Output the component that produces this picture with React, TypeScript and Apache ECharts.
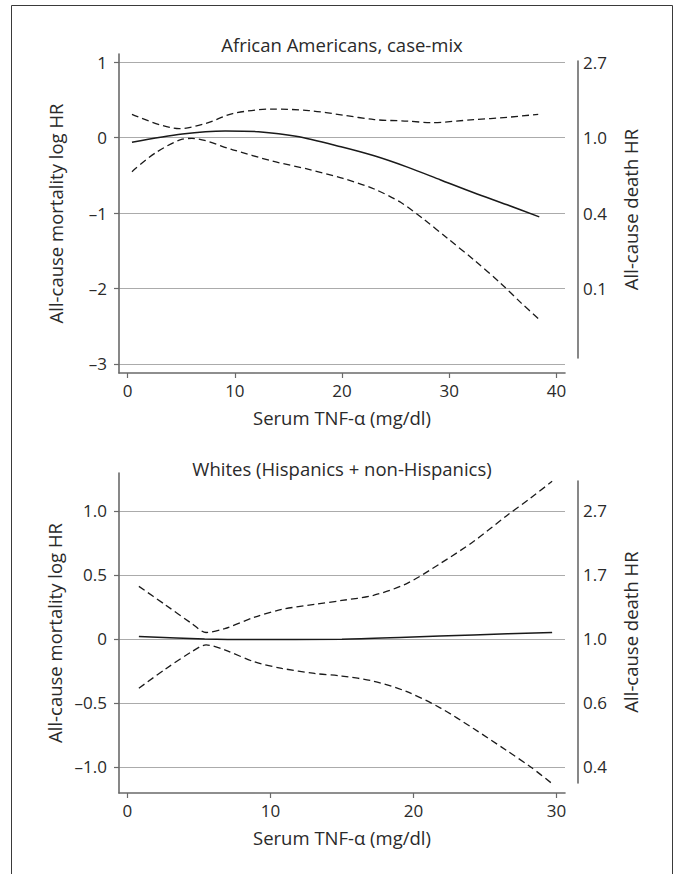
import React, { useEffect, useRef } from "react";
import * as echarts from "echarts";

// ---------- Data: African Americans, case-mix ----------
const AA_SOLID_X = [0.4, 5.1, 9.1, 12.2, 15.7, 19.9, 23.0, 26.1, 29.2, 32.3, 35.4, 38.4];
const AA_SOLID_Y = [-0.06, 0.05, 0.09, 0.08, 0.02, -0.12, -0.24, -0.39, -0.56, -0.73, -0.89, -1.05];
const AA_UPPER_X = [0.4, 4.8, 7.3, 9.8, 13.5, 16.9, 20.1, 23.0, 26.1, 28.3, 32.3, 35.4, 38.3];
const AA_UPPER_Y = [0.31, 0.12, 0.19, 0.32, 0.38, 0.36, 0.3, 0.24, 0.22, 0.2, 0.24, 0.27, 0.31];
const AA_LOWER_X = [0.4, 2.6, 5.1, 6.0, 9.8, 13.5, 16.9, 20.1, 23.0, 25.5, 27.7, 29.8, 32.3, 34.8, 36.7, 38.4];
const AA_LOWER_Y = [-0.45, -0.2, -0.02, -0.01, -0.16, -0.31, -0.42, -0.54, -0.68, -0.86, -1.09, -1.33, -1.62, -1.93, -2.19, -2.41];

// ---------- Data: Whites (Hispanics + non-Hispanics) ----------
const W_SOLID_X = [0.8, 5.4, 8.5, 15.0, 19.5, 24.2, 29.7];
const W_SOLID_Y = [0.018, 0.0, -0.005, -0.002, 0.013, 0.031, 0.05];
const W_BAND_X = [0.8, 2.6, 4.5, 5.5, 6.8, 8.9, 10.8, 13.1, 15.0, 17.2, 19.5, 21.9, 24.2, 26.5, 28.2, 29.7];
const W_UPPER_Y = [0.41, 0.27, 0.12, 0.05, 0.08, 0.17, 0.23, 0.27, 0.3, 0.34, 0.43, 0.59, 0.76, 0.96, 1.1, 1.23];
const W_LOWER_Y = [-0.385, -0.24, -0.1, -0.047, -0.086, -0.18, -0.23, -0.27, -0.29, -0.33, -0.41, -0.54, -0.7, -0.87, -1.0, -1.13];

// ---------- Ticks and labels ----------
const TOP_X_TICKS = [0, 10, 20, 30, 40];
const BOT_X_TICKS = [0, 10, 20, 30];
const TOP_Y_TICKS = [1, 0, -1, -2, -3];
const TOP_Y_LABELS = ["1", "0", "–1", "–2", "–3"];
const TOP_R_TICKS = [1, 0, -1, -2];
const TOP_R_LABELS = ["2.7", "1.0", "0.4", "0.1"];
const BOT_Y_TICKS = [1, 0.5, 0, -0.5, -1];
const BOT_Y_LABELS = ["1.0", "0.5", "0", "–0.5", "–1.0"];
const BOT_R_TICKS = [1, 0.5, 0, -0.5, -1];
const BOT_R_LABELS = ["2.7", "1.7", "1.0", "0.6", "0.4"];

const TITLE_TOP = "African Americans, case-mix";
const TITLE_BOT = "Whites (Hispanics + non-Hispanics)";
const X_NAME = "Serum TNF-α (mg/dl)";
const Y_NAME = "All-cause mortality log HR";
const R_NAME = "All-cause death HR";

const FONT = "'Open Sans', 'Noto Sans', sans-serif";
const NAME_SIZE = 18.5;
const TICK_SIZE = 17;
const TEXT_COLOR = "#2a2a2a";
const AXIS_COLOR = "#6a6a6a";
const GRID_COLOR = "#ababab";
const LINE_COLOR = "#1a1a1a";

const zip = (xs: number[], ys: number[]) => xs.map((x, i) => [x, ys[i]]);
const lookup = (ticks: number[], labels: string[]) => (v: number) => {
  const i = ticks.findIndex((t) => Math.abs(t - v) < 1e-6);
  return i >= 0 ? labels[i] : "";
};

function mainX(gridIndex: number, min: number, max: number, ticks: number[]) {
  return {
    type: "value",
    gridIndex,
    min,
    max,
    name: X_NAME,
    nameLocation: "middle",
    nameGap: 35,
    nameTextStyle: { fontFamily: FONT, fontSize: NAME_SIZE, color: TEXT_COLOR },
    axisLine: { show: true, onZero: false, lineStyle: { color: AXIS_COLOR, width: 1.6 } },
    axisTick: { show: true, inside: false, length: 5, customValues: ticks, lineStyle: { color: AXIS_COLOR, width: 1.2 } },
    axisLabel: { customValues: ticks, margin: 9, fontFamily: FONT, fontSize: TICK_SIZE, color: TEXT_COLOR, formatter: (v: number) => String(v) },
    splitLine: { show: false },
  };
}

function mainY(gridIndex: number, min: number, max: number, ticks: number[], labels: string[]) {
  return {
    type: "value",
    gridIndex,
    min,
    max,
    name: Y_NAME,
    nameLocation: "middle",
    nameRotate: 90,
    nameGap: 54,
    nameTextStyle: { fontFamily: FONT, fontSize: NAME_SIZE, color: TEXT_COLOR },
    axisLine: { show: true, onZero: false, lineStyle: { color: AXIS_COLOR, width: 1.6 } },
    axisTick: { show: true, inside: false, length: 5, customValues: ticks, lineStyle: { color: AXIS_COLOR, width: 1.2 } },
    axisLabel: { customValues: ticks, margin: 12, fontFamily: FONT, fontSize: TICK_SIZE, color: TEXT_COLOR, formatter: lookup(ticks, labels) },
    splitLine: { show: true, lineStyle: { color: GRID_COLOR, width: 1.2 } },
  };
}

function rightY(gridIndex: number, min: number, max: number, ticks: number[], labels: string[]) {
  return {
    type: "value",
    gridIndex,
    position: "right",
    min,
    max,
    name: R_NAME,
    nameLocation: "middle",
    nameRotate: 90,
    nameGap: 43,
    nameTextStyle: { fontFamily: FONT, fontSize: NAME_SIZE, color: TEXT_COLOR },
    axisLine: { show: true, onZero: false, lineStyle: { color: AXIS_COLOR, width: 1.6 } },
    axisTick: { show: false, customValues: ticks },
    axisLabel: { customValues: ticks, margin: 5, fontFamily: FONT, fontSize: TICK_SIZE, color: TEXT_COLOR, formatter: lookup(ticks, labels) },
    splitLine: { show: false },
  };
}

function hiddenX(gridIndex: number) {
  return { type: "value", gridIndex, show: false, min: 0, max: 1 };
}

function line(data: number[][], xAxisIndex: number, yAxisIndex: number, dashed: boolean) {
  return {
    type: "line",
    xAxisIndex,
    yAxisIndex,
    data,
    smooth: 0.3,
    showSymbol: false,
    symbol: "none",
    silent: true,
    lineStyle: { color: LINE_COLOR, width: dashed ? 1.3 : 1.5, type: dashed ? [7, 4] : "solid" },
  };
}

export default function App() {
  const ref = useRef<HTMLDivElement>(null);
  useEffect(() => {
    const chart = echarts.init(ref.current!, null, { renderer: "svg" });
    const option = {
      animation: false,
      backgroundColor: "#ffffff",
      grid: [
        { left: 119, top: 54, width: 446, height: 319 },
        { left: 568, top: 61, width: 10, height: 297 },
        { left: 119, top: 473, width: 446, height: 320 },
        { left: 568, top: 481, width: 10, height: 302 },
      ],
      xAxis: [
        mainX(0, -0.81, 40.8, TOP_X_TICKS),
        hiddenX(1),
        mainX(2, -0.59, 30.6, BOT_X_TICKS),
        hiddenX(3),
      ],
      yAxis: [
        mainY(0, -3.12, 1.11, TOP_Y_TICKS, TOP_Y_LABELS),
        rightY(1, -2.922, 1.017, TOP_R_TICKS, TOP_R_LABELS),
        mainY(2, -1.203, 1.295, BOT_Y_TICKS, BOT_Y_LABELS),
        rightY(3, -1.125, 1.233, BOT_R_TICKS, BOT_R_LABELS),
      ],
      graphic: [
        {
          type: "rect",
          silent: true,
          shape: { x: 11.5, y: 5.5, width: 661, height: 900 },
          style: { fill: "none", stroke: "#3a3a3a", lineWidth: 1 },
        },
        {
          type: "text",
          x: 342,
          y: 44,
          style: { text: TITLE_TOP, align: "center", verticalAlign: "middle", fontFamily: FONT, fontSize: NAME_SIZE, fill: TEXT_COLOR },
        },
        {
          type: "text",
          x: 342,
          y: 468,
          style: { text: TITLE_BOT, align: "center", verticalAlign: "middle", fontFamily: FONT, fontSize: NAME_SIZE, fill: TEXT_COLOR },
        },
      ],
      series: [
        line(zip(AA_UPPER_X, AA_UPPER_Y), 0, 0, true),
        line(zip(AA_SOLID_X, AA_SOLID_Y), 0, 0, false),
        line(zip(AA_LOWER_X, AA_LOWER_Y), 0, 0, true),
        line(zip(W_BAND_X, W_UPPER_Y), 2, 2, true),
        line(zip(W_SOLID_X, W_SOLID_Y), 2, 2, false),
        line(zip(W_BAND_X, W_LOWER_Y), 2, 2, true),
      ],
    };
    chart.setOption(option as any);
    return () => chart.dispose();
  }, []);
  return (
    <div
      ref={ref}
      style={{ position: "absolute", left: 0, top: 0, width: 676, height: 874, background: "#fff" }}
    />
  );
}
